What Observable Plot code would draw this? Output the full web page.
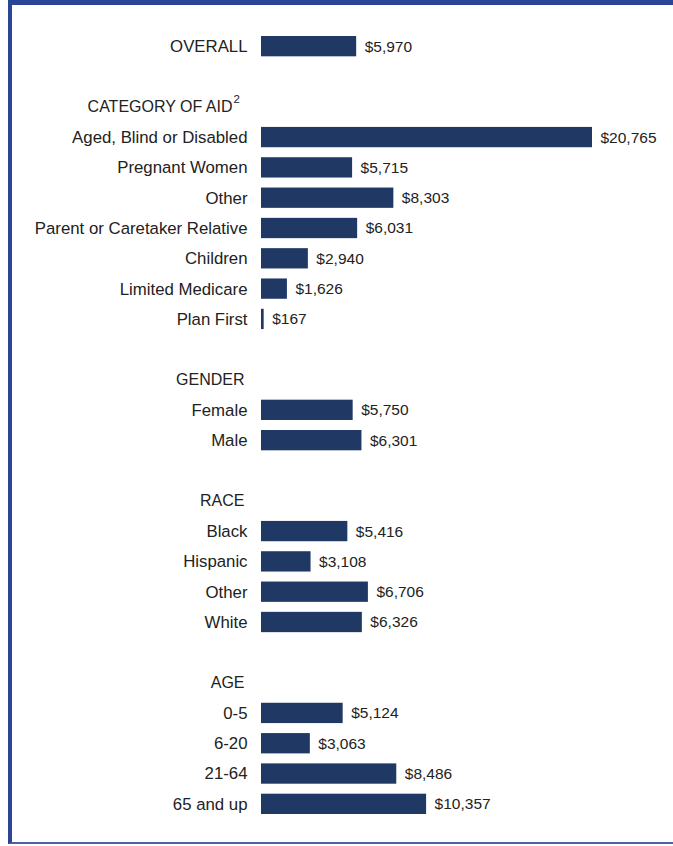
<!DOCTYPE html>
<html>
<head>
<meta charset="utf-8">
<script src="https://cdn.jsdelivr.net/npm/d3@7"></script>
<script src="https://cdn.jsdelivr.net/npm/@observablehq/plot@0.6"></script>
<style>
  html, body { margin: 0; padding: 0; background: #fff; }
  #wrap { position: relative; width: 673px; height: 846px; overflow: hidden; }
  #frame { position: absolute; left: 8px; top: 0; width: 680px; height: 844px;
           border-left: 4px solid #2b4596; border-top: 5px solid #2b4596; border-bottom: 2px solid #4a62a8; box-sizing: border-box; pointer-events: none; }
  #chart { position: absolute; left: 0; top: 0; }
</style>
</head>
<body>
<div id="wrap">
  <div id="chart"></div>
  <div id="frame"></div>
</div>
<script>
const overallLabel = "OVERALL";
const overallValue = 5970;
const headers = ["CATEGORY OF AID", "GENDER", "RACE", "AGE"];
const categoryLabels = ["Aged, Blind or Disabled", "Pregnant Women", "Other", "Parent or Caretaker Relative", "Children", "Limited Medicare", "Plan First"];
const categoryValues = [20765, 5715, 8303, 6031, 2940, 1626, 167];
const genderLabels = ["Female", "Male"];
const genderValues = [5750, 6301];
const raceLabels = ["Black", "Hispanic", "Other", "White"];
const raceValues = [5416, 3108, 6706, 6326];
const ageLabels = ["0-5", "6-20", "21-64", "65 and up"];
const ageValues = [5124, 3063, 8486, 10357];

const sections = [
  {header: headers[0], labels: categoryLabels, values: categoryValues},
  {header: headers[1], labels: genderLabels, values: genderValues},
  {header: headers[2], labels: raceLabels, values: raceValues},
  {header: headers[3], labels: ageLabels, values: ageValues}
];

const rows = [{key: "r0", label: overallLabel, value: overallValue, type: "bar"}];
let k = 1;
sections.forEach((s) => {
  rows.push({key: "r" + (k++), label: "", type: "blank"});
  rows.push({key: "r" + (k++), label: s.header, type: "header"});
  s.labels.forEach((l, i) => rows.push({key: "r" + (k++), label: l, value: s.values[i], type: "bar"}));
});

const bars = rows.filter(d => d.type === "bar");
const heads = rows.filter(d => d.type === "header");
const catHead = heads.filter(d => d.label === headers[0]);
const otherHeads = heads.filter(d => d.label !== headers[0]);
const fmt = d3.format("$,");
const font = "Liberation Sans, Arial, sans-serif";

const chart = Plot.plot({
  width: 673,
  height: 846,
  marginLeft: 261,
  marginRight: 81,
  marginTop: 26,
  marginBottom: 22,
  style: {fontFamily: font, background: "transparent"},
  x: {domain: [0, 20765], axis: null},
  y: {domain: rows.map(d => d.key), padding: 0.33, round: false, axis: null},
  marks: [
    Plot.barX(bars, {x: "value", y: "key", fill: "#1f3864"}),
    Plot.text(bars, {x: 0, y: "key", text: "label", textAnchor: "end", dx: -14, fontSize: 16.8, fill: "#222"}),
    Plot.text(bars, {x: "value", y: "key", text: d => fmt(d.value), textAnchor: "start", dx: 8, fontSize: 15.5, fill: "#222"}),
    Plot.text(otherHeads, {x: 0, y: "key", text: "label", textAnchor: "end", dx: -17, fontSize: 16, fill: "#222"}),
    Plot.text(catHead, {x: 0, y: "key", text: "label", textAnchor: "end", dx: -29, fontSize: 16, fill: "#222"}),
    Plot.text(catHead, {x: 0, y: "key", text: () => "2", textAnchor: "start", dx: -28, dy: -8, fontSize: 11.5, fill: "#222"})
  ]
});
document.getElementById("chart").appendChild(chart);
</script>
</body>
</html>
